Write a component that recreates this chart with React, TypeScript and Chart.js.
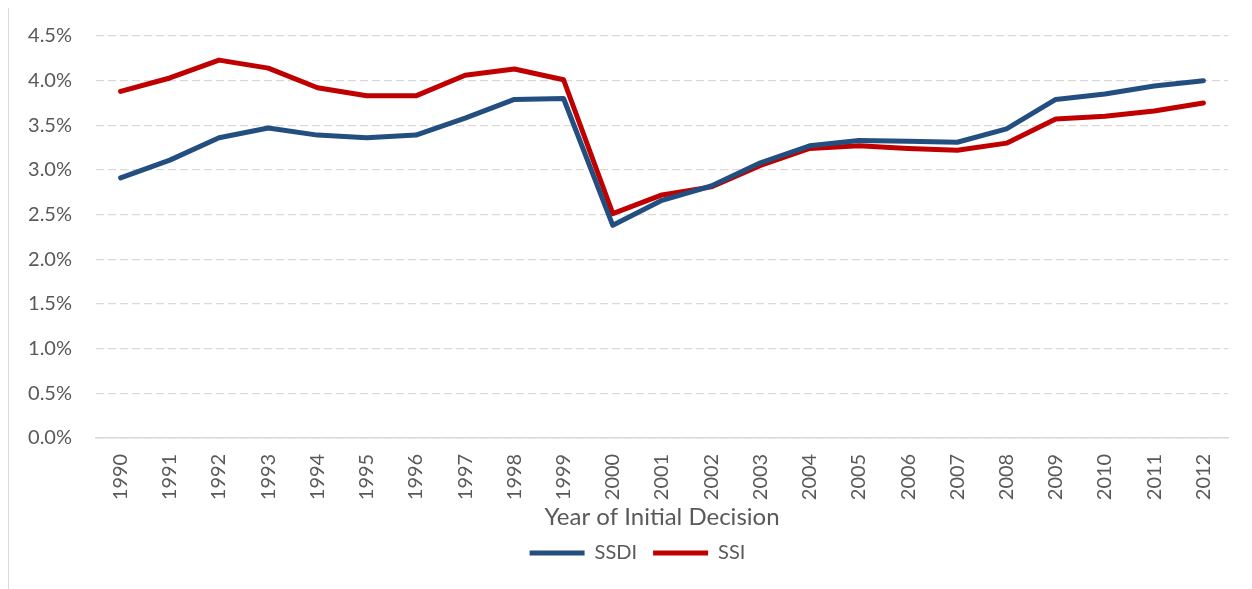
import React, { useEffect, useRef } from "react";
import { Chart, registerables } from "chart.js";

Chart.register(...registerables);

const years = [
  "1990", "1991", "1992", "1993", "1994", "1995", "1996", "1997", "1998", "1999",
  "2000", "2001", "2002", "2003", "2004", "2005", "2006", "2007", "2008", "2009",
  "2010", "2011", "2012",
];

const ssdi = [
  2.91, 3.11, 3.36, 3.47, 3.39, 3.36, 3.39, 3.58, 3.79, 3.8,
  2.38, 2.66, 2.82, 3.08, 3.27, 3.33, 3.32, 3.31, 3.46, 3.79,
  3.85, 3.94, 4.0,
];

const ssi = [
  3.88, 4.03, 4.23, 4.14, 3.92, 3.83, 3.83, 4.06, 4.13, 4.01,
  2.51, 2.72, 2.81, 3.05, 3.24, 3.27, 3.24, 3.22, 3.3, 3.57,
  3.6, 3.66, 3.75,
];

const yMin = 0;
const yMax = 4.5;
const yStep = 0.5;

const FONT = "Lato, 'Noto Sans', sans-serif";
const TEXT = "#595959";
const GRID = "#d9d9d9";

// nudges the bottom legend to where the reference places it
const legendNudge = {
  id: "legendNudge",
  afterLayout(chart: any) {
    const lg = chart.legend;
    if (!lg) return;
    lg.left += 38;
    lg.top -= 5;
  },
};

export default function App() {
  const ref = useRef<HTMLCanvasElement | null>(null);

  useEffect(() => {
    if (!ref.current) return;
    const chart = new Chart(ref.current, {
      type: "line",
      data: {
        labels: years,
        datasets: [
          {
            label: "SSDI",
            data: ssdi,
            borderColor: "#234F80",
            backgroundColor: "#234F80",
            borderWidth: 5,
            pointRadius: 0,
            tension: 0,
            borderCapStyle: "round",
            borderJoinStyle: "round",
          },
          {
            label: "SSI",
            data: ssi,
            borderColor: "#C00000",
            backgroundColor: "#C00000",
            borderWidth: 5,
            pointRadius: 0,
            tension: 0,
            borderCapStyle: "round",
            borderJoinStyle: "round",
          },
        ],
      },
      plugins: [legendNudge],
      options: {
        responsive: false,
        animation: false,
        layout: { padding: { left: 0, right: 24, top: 28, bottom: 17 } },
        plugins: {
          tooltip: { enabled: false },
          legend: {
            position: "bottom",
            maxHeight: 40,
            labels: {
              usePointStyle: true,
              pointStyle: "line",
              pointStyleWidth: 55,
              boxHeight: 5,
              color: TEXT,
              padding: 16,
              font: { family: FONT, size: 20 },
            },
          },
        },
        scales: {
          x: {
            offset: true,
            grid: { display: false, drawTicks: false },
            border: { display: true, color: GRID, width: 1.5 },
            ticks: {
              minRotation: 90,
              maxRotation: 90,
              padding: 16,
              color: TEXT,
              font: { family: FONT, size: 20 },
            },
            title: {
              display: true,
              text: "Year of Initial Decision",
              color: TEXT,
              font: { family: FONT, size: 24 },
              padding: { top: -13, bottom: 0 },
            },
          },
          y: {
            min: yMin,
            max: yMax,
            afterFit: (scale: any) => {
              scale.width = 87;
            },
            grid: {
              color: GRID,
              lineWidth: 1.3,
              drawTicks: true,
              tickLength: 20,
              tickColor: "rgba(0,0,0,0)",
            },
            border: { display: false, dash: [8, 4] },
            ticks: {
              stepSize: yStep,
              padding: 4,
              color: TEXT,
              font: { family: FONT, size: 20 },
              callback: (v: any) => Number(v).toFixed(1) + "%",
            },
          },
        },
      },
    });
    return () => chart.destroy();
  }, []);

  return (
    <div
      style={{
        marginTop: -1,
        width: 1244,
        height: 582,
        borderTop: `1px solid ${GRID}`,
        borderLeft: `1px solid ${GRID}`,
        boxSizing: "border-box",
      }}
    >
      <canvas ref={ref} width={1243} height={581} style={{ display: "block" }} />
    </div>
  );
}
